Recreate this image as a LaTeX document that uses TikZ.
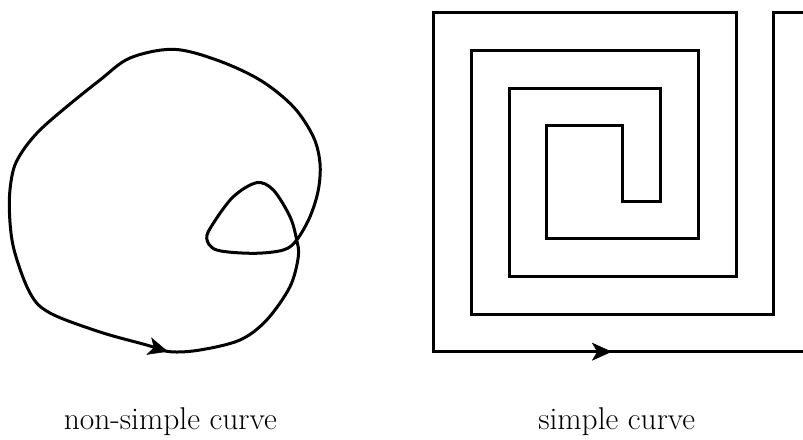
\documentclass[tikz,border=0pt]{standalone}
\usetikzlibrary{arrows.meta,decorations.markings}
\begin{document}
\begin{tikzpicture}[x=0.75pt,y=-0.75pt,
  curve/.style={line width=2.25pt, line join=miter},
  tipmark/.style={decoration={markings, mark=at position #1 with {\arrow{Stealth[length=15pt,width=13.5pt,inset=4pt]}}}, postaction={decorate}},
  lbl/.style={font=\fontsize{23.6}{28}\selectfont, inner sep=0pt, anchor=base}]
\useasboundingbox (0,0) rectangle (803,439);
% non-simple curve
\draw[curve] plot[smooth cycle, tension=0.55] coordinates {
  (170,351.7) (200,350) (240,340) (266.7,320) (290,286.7) (298.3,256.7) (296.7,240)
  (290,216.7) (273.3,190) (256.7,182.7) (233.3,196.7) (213.3,223.3) (206.7,238.3)
  (216.7,250) (253.3,253.3) (283.3,250) (296.7,240) (310,216.7) (318.3,190)
  (320,163.3) (313.3,136.7) (293.3,106.7) (260,80) (216.7,60) (173.3,49.3)
  (130,58) (100,80) (66.7,106.7) (40,130) (23.3,150) (13.3,170) (9.3,203)
  (13.3,246.7) (30,293) (50,313) (100,332) (146.7,345)};
\coordinate (a0) at (146.7,345.5);
\coordinate (a1) at (168,351.6);
\path[tipmark=1] (a0) -- (a1);
% simple curve (spiral)
\draw[curve] (803,12.3) -- (773.3,12.3) -- (773.3,314.3) -- (471,314.3) -- (471,50)
  -- (698,50) -- (698,238.7) -- (546.7,238.7) -- (546.7,125.7) -- (622.7,125.7)
  -- (622.7,201.3) -- (660.7,201.3) -- (660.7,88) -- (509,88) -- (509,276.7)
  -- (736,276.7) -- (736,12.3) -- (433.3,12.3) -- (433.3,351.7) -- (803,351.7);
\coordinate (b0) at (433.3,351.7);
\coordinate (b1) at (803,351.7);
\path[tipmark=0.483] (b0) -- (b1);
% labels
\node[lbl] (l1) at (170.3,429) {non-simple curve};
\node[lbl] (l2) at (616.7,429) {simple curve};
\end{tikzpicture}
\end{document}
